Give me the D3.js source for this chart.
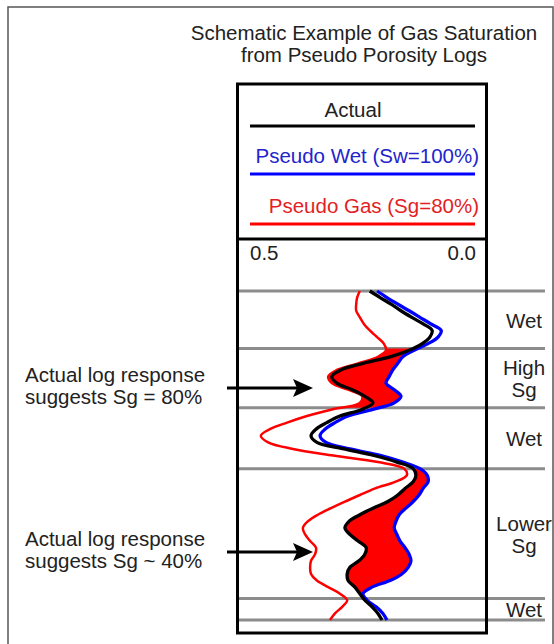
<!DOCTYPE html>
<html lang="en">

<head>
  <meta charset="utf-8">
  <!-- Load d3.js -->
  <script src="https://d3js.org/d3.v7.min.js"></script>
  <title>Gas Saturation from Pseudo Porosity Logs</title>
  <style>
    body { margin: 0; background: #fff; }
    text { font-family: "Liberation Sans", Arial, sans-serif; font-size: 20.5px; fill: #222; }
  </style>
</head>

<body>
  <!-- Create a div where the graph will take place -->
  <div id="my_dataviz"></div>
</body>

<script>

  const depth = [0, 2, 4, 6, 8, 10, 12, 14, 16, 18, 20, 22, 24, 26, 28, 30, 32, 34, 36, 38,
    40, 42, 44, 46, 48, 50, 52, 54, 56, 58, 60, 62, 64, 66, 68, 70, 72, 74, 76, 78,
    80, 82, 84, 86, 88, 90, 92, 94, 96, 98, 100];

  const actual = [0.235, 0.212, 0.188, 0.166, 0.142, 0.117, 0.097, 0.102, 0.119, 0.148,
    0.190, 0.250, 0.299, 0.319, 0.308, 0.274, 0.246, 0.228, 0.252, 0.301,
    0.330, 0.354, 0.365, 0.352, 0.292, 0.226, 0.175, 0.139, 0.133, 0.139,
    0.157, 0.173, 0.195, 0.228, 0.257, 0.281, 0.290, 0.279, 0.261, 0.243,
    0.246, 0.259, 0.279, 0.285, 0.283, 0.268, 0.257, 0.246, 0.230, 0.217,
    0.208];

  const pseudoWet = [0.219, 0.197, 0.173, 0.148, 0.124, 0.100, 0.077, 0.084, 0.106, 0.137,
    0.162, 0.173, 0.184, 0.192, 0.199, 0.181, 0.166, 0.181, 0.228, 0.283,
    0.312, 0.334, 0.345, 0.332, 0.279, 0.210, 0.162, 0.124, 0.108, 0.106,
    0.117, 0.126, 0.139, 0.155, 0.170, 0.177, 0.181, 0.175, 0.168, 0.157,
    0.148, 0.144, 0.150, 0.164, 0.190, 0.230, 0.250, 0.241, 0.221, 0.206,
    0.197];

  const pseudoGas = [0.257, 0.263, 0.265, 0.265, 0.257, 0.248, 0.235, 0.219, 0.204, 0.199,
    0.217, 0.261, 0.308, 0.327, 0.319, 0.283, 0.252, 0.257, 0.319, 0.374,
    0.418, 0.456, 0.476, 0.460, 0.405, 0.316, 0.217, 0.159, 0.153, 0.179,
    0.223, 0.257, 0.290, 0.321, 0.350, 0.372, 0.383, 0.378, 0.367, 0.354,
    0.356, 0.365, 0.367, 0.365, 0.352, 0.327, 0.301, 0.285, 0.296, 0.312,
    0.323];

  // zones
  const zoneTops = [0, 17.5, 35.5, 54, 93.5];
  const zoneBottoms = [17.5, 35.5, 54, 93.5, 100];
  const zoneLabels = [["Wet"], ["High", "Sg"], ["Wet"], ["Lower", "Sg"], ["Wet"]];

  // gas shading: from which log to the wet log
  const gasTops = [17.5, 54];
  const gasBottoms = [35.5, 93.5];
  const gasFrom = ["gas", "actual"];

  // legend + scale labels
  const legendNames = ["Actual", "Pseudo Wet (Sw=100%)", "Pseudo Gas (Sg=80%)"];
  const legendColors = ["#000", "#0000ff", "#ff0000"];
  const legendText = ["#222", "#2424cc", "#e31e24"];
  const xTicks = [0.5, 0.0];

  // annotations
  const noteDepths = [29.5, 79.3];
  const notes = [["Actual log response", "suggests Sg = 80%"], ["Actual log response", "suggests Sg ~ 40%"]];

  const titleLines = ["Schematic Example of Gas Saturation", "from Pseudo Porosity Logs"];

  const W = 554, H = 644;
  const box = { left: 237.5, right: 486.5, top: 84, split: 239, bottom: 633 };

  const svg = d3.select("#my_dataviz")
    .append("svg")
    .attr("width", W)
    .attr("height", H);

  // outer frame
  svg.append("rect")
    .attr("x", 8).attr("y", 7)
    .attr("width", 545).attr("height", 700)
    .attr("fill", "none").attr("stroke", "#555").attr("stroke-width", 1.5);

  // scales
  const x = d3.scaleLinear().domain([0.5, 0]).range([250, 476]);
  const y = d3.scaleLinear().domain([0, 100]).range([291, 620]);

  // title
  svg.selectAll("text.title")
    .data(titleLines)
    .join("text")
    .attr("class", "title")
    .attr("x", 364)
    .attr("y", (d, i) => 40 + i * 22)
    .attr("text-anchor", "middle")
    .text(d => d);

  // zone boundaries
  const bounds = zoneTops.concat([zoneBottoms[zoneBottoms.length - 1]]);
  svg.selectAll("line.zone")
    .data(bounds)
    .join("line")
    .attr("class", "zone")
    .attr("x1", box.left).attr("x2", 545)
    .attr("y1", d => y(d)).attr("y2", d => y(d))
    .attr("stroke", "#8c8c8c").attr("stroke-width", 3);

  // zone labels
  zoneLabels.forEach((lines, i) => {
    const mid = y((zoneTops[i] + zoneBottoms[i]) / 2);
    const t = svg.append("text")
      .attr("text-anchor", "middle");
    lines.forEach((s, j) => {
      t.append("tspan")
        .attr("x", 524)
        .attr("y", mid + 8 + (j - (lines.length - 1) / 2) * 22)
        .text(s);
    });
  });

  // rows for the curves
  const rows = depth.map((d, i) => ({ depth: d, actual: actual[i], wet: pseudoWet[i], gas: pseudoGas[i] }));
  const curve = d3.curveCatmullRom.alpha(0.5);

  // gas shading, clipped to each gas zone
  gasTops.forEach((top, i) => {
    const id = "gasclip" + i;
    svg.append("clipPath").attr("id", id)
      .append("rect")
      .attr("x", box.left).attr("width", box.right - box.left)
      .attr("y", y(top)).attr("height", y(gasBottoms[i]) - y(top));
    const area = d3.area()
      .y(d => y(d.depth))
      .x0(d => x(d[gasFrom[i]]))
      .x1(d => x(d.wet))
      .curve(curve);
    svg.append("path")
      .datum(rows)
      .attr("clip-path", `url(#${id})`)
      .attr("fill", "#ff0000")
      .attr("d", area);
  });

  // log curves
  const series = [["gas", "#ff0000", 2.5], ["wet", "#0000ff", 3.3], ["actual", "#000", 3.3]];
  series.forEach(([key, color, w]) => {
    svg.append("path")
      .datum(rows)
      .attr("fill", "none")
      .attr("stroke", color)
      .attr("stroke-width", w)
      .attr("d", d3.line().x(d => x(d[key])).y(d => y(d.depth)).curve(curve));
  });

  // track box
  svg.append("rect")
    .attr("x", box.left).attr("y", box.top)
    .attr("width", box.right - box.left).attr("height", box.bottom - box.top)
    .attr("fill", "none").attr("stroke", "#000").attr("stroke-width", 3);
  svg.append("line")
    .attr("x1", box.left).attr("x2", box.right)
    .attr("y1", box.split).attr("y2", box.split)
    .attr("stroke", "#000").attr("stroke-width", 3);

  // legend
  const legendY = [126, 174, 224];
  legendNames.forEach((name, i) => {
    svg.append("line")
      .attr("x1", 250).attr("x2", 475)
      .attr("y1", legendY[i]).attr("y2", legendY[i])
      .attr("stroke", legendColors[i]).attr("stroke-width", 3);
    svg.append("text")
      .attr("x", i === 0 ? 353 : 479)
      .attr("y", legendY[i] - (i === 0 ? 9 : 11))
      .attr("text-anchor", i === 0 ? "middle" : "end")
      .style("fill", legendText[i])
      .text(name);
  });

  // scale labels
  svg.selectAll("text.tick")
    .data(xTicks)
    .join("text")
    .attr("class", "tick")
    .attr("x", d => x(d))
    .attr("y", 260)
    .attr("text-anchor", (d, i) => i === 0 ? "start" : "end")
    .text(d => d.toFixed(1));

  // annotations with arrows
  notes.forEach((lines, i) => {
    const ay = y(noteDepths[i]);
    svg.append("text").attr("x", 25).attr("y", ay - 6).text(lines[0]);
    svg.append("text").attr("x", 25).attr("y", ay + 16).text(lines[1]);
    svg.append("line")
      .attr("x1", 227).attr("x2", 298)
      .attr("y1", ay).attr("y2", ay)
      .attr("stroke", "#000").attr("stroke-width", 3);
    svg.append("path")
      .attr("d", `M313,${ay} L293,${ay - 9} L297,${ay} L293,${ay + 9} Z`)
      .attr("fill", "#000");
  });

</script>

</html>
